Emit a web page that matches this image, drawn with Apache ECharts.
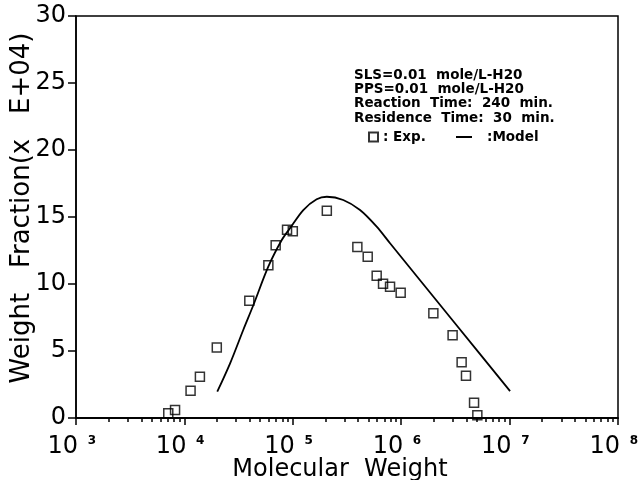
<!DOCTYPE html>
<html>
<head>
    <meta charset="utf-8">
    <title>Weight Fraction</title>
    <script src="https://cdn.jsdelivr.net/npm/echarts@6/dist/echarts.min.js"></script>
</head>
<body style="margin:0">
    <div id="main" style="width: 643px;height: 480px;"></div>
    <script type="text/javascript">
        // experimental points (squares)
        var expMW = [7.1e3, 8.2e3, 1.14e4, 1.39e4, 1.99e4, 3.97e4, 5.95e4, 6.95e4, 8.85e4, 1.0e5,
            2.06e5, 3.94e5, 4.91e5, 5.94e5, 6.8e5, 7.89e5, 9.89e5, 1.98e6, 2.98e6, 3.61e6, 3.96e6, 4.70e6, 5.04e6];
        var expWF = [0.35, 0.6, 2.04, 3.08, 5.27, 8.75, 11.4, 12.9, 14.05, 13.93,
            15.46, 12.76, 12.04, 10.62, 10.02, 9.8, 9.35, 7.81, 6.17, 4.16, 3.16, 1.14, 0.2];

        // model curve
        var modelMW = [2.01e4, 2.64e4, 3.49e4, 4.33e4, 5.94e4, 7.91e4, 9.42e4, 1.25e5, 1.66e5, 2.06e5,
            2.92e5, 4.17e5, 5.94e5, 7.89e5, 3.16e6, 1.01e7];
        var modelWF = [1.96, 4.08, 6.57, 8.43, 11.29, 13.28, 14.16, 15.52, 16.32, 16.51,
            16.27, 15.52, 14.28, 13.04, 7.03, 2.01];

        // axis ticks
        var decades = [3, 4, 5, 6, 7];
        var minorMult = [2, 3, 4, 5, 6, 7, 8, 9];

        var notes = ['SLS=0.01  mole/L-H20', 'PPS=0.01  mole/L-H20',
            'Reaction  Time:  240  min.', 'Residence  Time:  30  min.'];

        // minor ticks 2..9 of every decade, in log10 units
        var minorTicks = [];
        decades.forEach(function (d) {
            minorMult.forEach(function (m) { minorTicks.push(d + Math.log10(m)); });
        });

        var myChart = echarts.init(document.getElementById('main'));
        var fam = 'DejaVu Sans';
        var tickStyle = { color: '#000', width: 1.5 };

        var option = {
            animation: false,
            backgroundColor: '#fff',
            grid: {
                left: 76, right: 25, top: 16, bottom: 62,
                outerBoundsMode: 'none', containLabel: false,
                show: true, borderColor: '#000', borderWidth: 1.5
            },
            xAxis: [
                {
                    type: 'log', logBase: 10, min: 1e3, max: 1e8,
                    name: 'Molecular  Weight', nameLocation: 'middle', nameGap: 40, nameMoveOverlap: false,
                    nameTextStyle: { fontFamily: fam, fontSize: 24, color: '#000', padding: [0, 14, 0, 0] },
                    axisLine: { lineStyle: { color: '#000', width: 1.5 } },
                    axisTick: { show: true, length: 7, lineStyle: tickStyle },
                    splitLine: { show: false },
                    axisLabel: {
                        margin: 17, color: '#000',
                        formatter: function (v) {
                            return '{b|10}{s|' + Math.round(Math.log10(v)) + '}';
                        },
                        rich: {
                            b: { fontFamily: fam, fontSize: 24, width: 22, align: 'right', color: '#000' },
                            s: { fontFamily: fam, fontSize: 12, fontWeight: 'bold', width: 18, align: 'right',
                                verticalAlign: 'top', padding: [0, 0, 12, 0], color: '#000' }
                        }
                    }
                },
                {
                    type: 'value', min: 3, max: 8, position: 'bottom',
                    axisLine: { show: true, lineStyle: { color: '#000', width: 1.5 } },
                    axisLabel: { show: false },
                    splitLine: { show: false },
                    axisTick: { show: true, length: 4, customValues: minorTicks, lineStyle: tickStyle }
                }
            ],
            yAxis: {
                type: 'value', min: 0, max: 30, interval: 5,
                name: 'Weight   Fraction(x   E+04)', nameLocation: 'middle', nameGap: 41, nameMoveOverlap: false,
                nameTextStyle: { fontFamily: fam, fontSize: 26, color: '#000', padding: [0, 0, 0, 18] },
                axisLine: { show: true, lineStyle: { color: '#000', width: 1.5 } },
                axisTick: { show: true, length: 8, lineStyle: tickStyle },
                splitLine: { show: false },
                axisLabel: { margin: 10, color: '#000', fontFamily: fam, fontSize: 24 }
            },
            legend: [
                {
                    data: [': Exp.'], left: 363, top: 125, itemWidth: 9, itemHeight: 9, itemGap: 7,
                    textStyle: { fontFamily: fam, fontSize: 13.5, fontWeight: 'bold', color: '#000' }
                },
                {
                    data: [{ name: ':Model', icon: 'rect' }], left: 451, top: 125, itemWidth: 16, itemHeight: 2,
                    textStyle: { fontFamily: fam, fontSize: 13.5, fontWeight: 'bold', color: '#000', padding: [0, 0, 0, 10] }
                }
            ],
            graphic: notes.map(function (t, i) {
                return {
                    type: 'text', left: 354, top: 68 + i * 14.4,
                    style: { text: t, fontFamily: fam, fontSize: 13.5, fontWeight: 'bold', fill: '#000' }
                };
            }),
            series: [
                {
                    name: ':Model', type: 'line', xAxisIndex: 0,
                    data: modelMW.map(function (x, i) { return [x, modelWF[i]]; }),
                    smooth: 0.3, showSymbol: false, symbol: 'none',
                    lineStyle: { color: '#000', width: 1.8 },
                    itemStyle: { color: '#000' }
                },
                {
                    name: ': Exp.', type: 'scatter', xAxisIndex: 0,
                    data: expMW.map(function (x, i) { return [x, expWF[i]]; }),
                    symbol: 'rect', symbolSize: 9,
                    itemStyle: { color: 'rgba(0,0,0,0)', borderColor: '#000', borderWidth: 1.5 }
                }
            ]
        };

        myChart.setOption(option);
    </script>
</body>
</html>
